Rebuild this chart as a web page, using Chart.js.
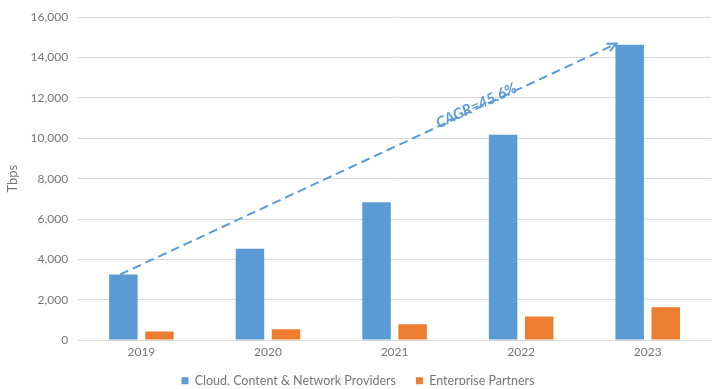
<!DOCTYPE html>
<html>
<head>
<meta charset="utf-8">
<script src="https://cdn.jsdelivr.net/npm/chart.js@4"></script>
<style>
  html, body { margin: 0; padding: 0; background: #fff; }
  #wrap { width: 719px; height: 389px; }
</style>
</head>
<body>
<div id="wrap"><canvas id="chart"></canvas></div>
<script>
// data
const years = ["2019", "2020", "2021", "2022", "2023"];
const cloudProviders = [3250, 4530, 6830, 10180, 14640];
const enterprisePartners = [420, 540, 790, 1170, 1630];
const yTicks = [0, 2000, 4000, 6000, 8000, 10000, 12000, 14000, 16000];
const cagrText = "CAGR=45.6%";

const blue = "#5B9BD5";
const orange = "#ED7D31";
const grey = "#767676";
const fontName = "Lato, 'DejaVu Sans', sans-serif";
const legendPad = 20;

// dashed arrow from the 2019 bar to the 2023 bar, with the CAGR label on it
const cagrArrow = {
    id: "cagrArrow",
    afterDatasetsDraw(chart) {
        const ctx = chart.ctx;
        const meta = chart.getDatasetMeta(0);
        const first = meta.data[0];
        const last = meta.data[meta.data.length - 1];
        const x1 = first.x - first.width / 2 + 11;
        const y1 = first.y;
        const x2 = last.x - last.width / 2 + 1;
        const y2 = last.y - 1;
        const ang = Math.atan2(y2 - y1, x2 - x1);

        ctx.save();
        ctx.strokeStyle = blue;
        ctx.lineWidth = 2;
        ctx.setLineDash([9, 5]);
        ctx.beginPath();
        ctx.moveTo(x1, y1);
        ctx.lineTo(x2 - 2 * Math.cos(ang), y2 - 2 * Math.sin(ang));
        ctx.stroke();

        // arrow head
        ctx.setLineDash([]);
        ctx.beginPath();
        ctx.moveTo(x2 - 10 * Math.cos(ang - 0.42), y2 - 10 * Math.sin(ang - 0.42));
        ctx.lineTo(x2, y2);
        ctx.lineTo(x2 - 10 * Math.cos(ang + 0.42), y2 - 10 * Math.sin(ang + 0.42));
        ctx.stroke();

        // label sits on the line
        const t = 0.72;
        const lx = x1 + (x2 - x1) * t;
        const ly = y1 + (y2 - y1) * t;
        ctx.translate(lx, ly);
        ctx.rotate(ang);
        ctx.fillStyle = blue;
        ctx.font = "italic bold 15px " + fontName;
        ctx.textAlign = "center";
        ctx.textBaseline = "alphabetic";
        ctx.fillText(cagrText, 0, 2);
        ctx.restore();
    }
};

// wide gap between legend items without making the legend taller
const extra = legendPad - 8;
const legendFit = {
    id: "legendFit",
    beforeInit(chart) {
        const lg = chart.legend;
        if (!lg) return;
        const fit = lg.fit;
        lg.fit = function () {
            fit.call(this);
            this.height -= extra;
        };
    },
    afterLayout(chart) {
        const lg = chart.legend;
        if (!lg) return;
        lg.top -= extra - 2;
        lg.bottom -= extra - 2;
    }
};

new Chart(document.getElementById("chart"), {
    type: "bar",
    data: {
        labels: years,
        datasets: [
            {
                label: "Cloud, Content & Network Providers",
                data: cloudProviders,
                backgroundColor: blue
            },
            {
                label: "Enterprise Partners",
                data: enterprisePartners,
                backgroundColor: orange
            }
        ]
    },
    options: {
        responsive: true,
        maintainAspectRatio: false,
        animation: false,
        categoryPercentage: 0.57,
        barPercentage: 0.79,
        layout: { padding: { top: 4, right: 8, left: 5, bottom: -6 } },
        plugins: {
            legend: {
                position: "bottom",
                labels: {
                    color: grey,
                    font: { family: fontName, size: 12.5 },
                    boxWidth: 7,
                    boxHeight: 7,
                    padding: legendPad
                }
            },
            tooltip: { enabled: false }
        },
        scales: {
            x: {
                grid: { display: false, drawTicks: false },
                border: { color: "#D9D9D9" },
                ticks: { color: grey, padding: 5, font: { family: fontName, size: 12 } }
            },
            y: {
                min: 0,
                max: 16000,
                afterBuildTicks(axis) {
                    axis.ticks = yTicks.map(v => ({ value: v }));
                },
                grid: { color: "#D9D9D9", drawTicks: false },
                border: { display: false },
                title: {
                    display: true,
                    text: "Tbps",
                    color: grey,
                    padding: 0,
                    font: { family: fontName, size: 13 }
                },
                ticks: {
                    color: grey,
                    padding: 10,
                    font: { family: fontName, size: 12 },
                    callback: v => v.toLocaleString("en-US")
                }
            }
        }
    },
    plugins: [cagrArrow, legendFit]
});
</script>
</body>
</html>
